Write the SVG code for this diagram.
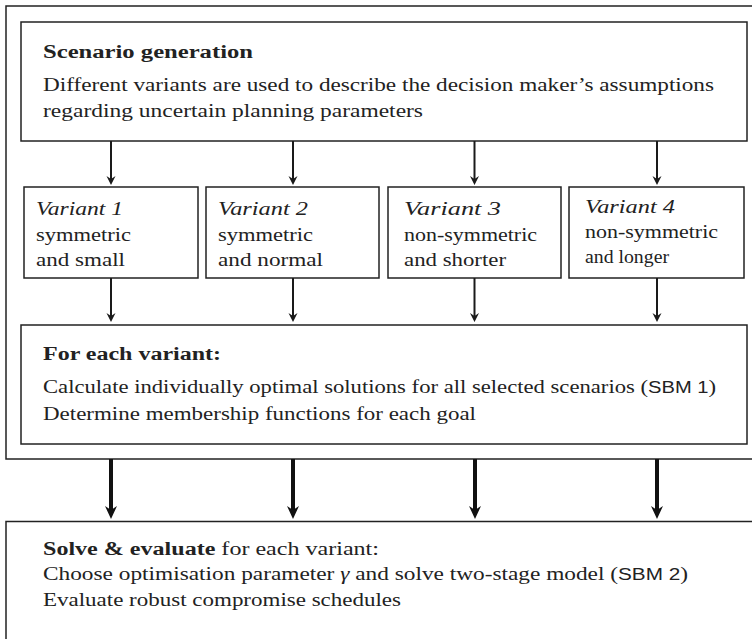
<svg xmlns="http://www.w3.org/2000/svg" width="752" height="639" viewBox="0 0 752 639">
<style>
.box{fill:none;stroke:#222;stroke-width:1.5}
.t{font-family:"Liberation Serif","Times New Roman",serif;font-size:18px;fill:#222}
.b{font-weight:bold}
.i{font-style:italic}
.s{font-family:"Liberation Sans",Arial,sans-serif;font-size:16px}
.thin{stroke:#1a1a1a;stroke-width:2;fill:none}
.thick{stroke:#111;stroke-width:4;fill:none}
</style>
<defs>
<marker id="ah" markerUnits="userSpaceOnUse" viewBox="-10 -5 11 10" markerWidth="11" markerHeight="10" refX="-4" refY="0" orient="auto">
<path d="M0,0 L-9,-4.5 L-6,0 L-9,4.5 Z" fill="#1a1a1a"/>
</marker>
<marker id="ahb" markerUnits="userSpaceOnUse" viewBox="-14 -7 15 14" markerWidth="15" markerHeight="14" refX="-7" refY="0" orient="auto">
<path d="M0,0 L-13,-6 L-9,0 L-13,6 Z" fill="#111"/>
</marker>
</defs>
<g id="outer"><rect class="box" x="6" y="6" width="760" height="453"/></g>
<g id="scenario">
<rect class="box" x="21" y="22" width="726" height="119"/>
<text class="t b" x="43" y="58" textLength="210" lengthAdjust="spacingAndGlyphs">Scenario generation</text>
<text class="t" x="43" y="91" textLength="671" lengthAdjust="spacingAndGlyphs">Different variants are used to describe the decision maker’s assumptions</text>
<text class="t" x="43" y="117" textLength="380" lengthAdjust="spacingAndGlyphs">regarding uncertain planning parameters</text>
</g>
<g id="variant1">
<rect class="box" x="24" y="187" width="174" height="91"/>
<text class="t i" x="36" y="215" textLength="87" lengthAdjust="spacingAndGlyphs">Variant 1</text>
<text class="t" x="36" y="241" textLength="95" lengthAdjust="spacingAndGlyphs">symmetric</text>
<text class="t" x="36" y="266" textLength="89" lengthAdjust="spacingAndGlyphs">and small</text>
</g>
<g id="variant2">
<rect class="box" x="206" y="187" width="173" height="91"/>
<text class="t i" x="218" y="215" textLength="90" lengthAdjust="spacingAndGlyphs">Variant 2</text>
<text class="t" x="218" y="241" textLength="95" lengthAdjust="spacingAndGlyphs">symmetric</text>
<text class="t" x="218" y="266" textLength="105" lengthAdjust="spacingAndGlyphs">and normal</text>
</g>
<g id="variant3">
<rect class="box" x="388" y="187" width="173" height="91"/>
<text class="t i" x="404" y="215" textLength="97" lengthAdjust="spacingAndGlyphs">Variant 3</text>
<text class="t" x="404" y="241" textLength="133" lengthAdjust="spacingAndGlyphs">non-symmetric</text>
<text class="t" x="404" y="266" textLength="102" lengthAdjust="spacingAndGlyphs">and shorter</text>
</g>
<g id="variant4">
<rect class="box" x="569" y="187" width="175" height="91"/>
<text class="t i" x="585" y="212.5" textLength="90" lengthAdjust="spacingAndGlyphs">Variant 4</text>
<text class="t" x="585" y="238" textLength="133" lengthAdjust="spacingAndGlyphs">non-symmetric</text>
<text class="t" x="585" y="263" textLength="84" lengthAdjust="spacingAndGlyphs">and longer</text>
</g>
<g id="foreach">
<rect class="box" x="21" y="325" width="726" height="119"/>
<text class="t b" x="43" y="360" textLength="178" lengthAdjust="spacingAndGlyphs">For each variant:</text>
<text class="t" x="43" y="393" textLength="673" lengthAdjust="spacingAndGlyphs">Calculate individually optimal solutions for all selected scenarios (<tspan class="s">SBM 1</tspan>)</text>
<text class="t" x="43" y="420" textLength="433" lengthAdjust="spacingAndGlyphs">Determine membership functions for each goal</text>
</g>
<g id="solve">
<rect class="box" x="6" y="521.5" width="760" height="200"/>
<text class="t" x="43" y="555" textLength="336" lengthAdjust="spacingAndGlyphs"><tspan class="b">Solve &amp; evaluate</tspan> for each variant:</text>
<text class="t" x="43" y="580" textLength="645" lengthAdjust="spacingAndGlyphs">Choose optimisation parameter <tspan class="i">γ</tspan> and solve two-stage model (<tspan class="s">SBM 2</tspan>)</text>
<text class="t" x="43" y="606" textLength="358" lengthAdjust="spacingAndGlyphs">Evaluate robust compromise schedules</text>
</g>
<g id="connectors">
<line class="thin" x1="111" y1="141" x2="111" y2="181" marker-end="url(#ah)"/>
<line class="thin" x1="293" y1="141" x2="293" y2="181" marker-end="url(#ah)"/>
<line class="thin" x1="474.5" y1="141" x2="474.5" y2="181" marker-end="url(#ah)"/>
<line class="thin" x1="657" y1="141" x2="657" y2="181" marker-end="url(#ah)"/>
<line class="thin" x1="111" y1="278" x2="111" y2="318" marker-end="url(#ah)"/>
<line class="thin" x1="293" y1="278" x2="293" y2="318" marker-end="url(#ah)"/>
<line class="thin" x1="474.5" y1="278" x2="474.5" y2="318" marker-end="url(#ah)"/>
<line class="thin" x1="657" y1="278" x2="657" y2="318" marker-end="url(#ah)"/>
<line class="thick" x1="111" y1="459" x2="111" y2="512" marker-end="url(#ahb)"/>
<line class="thick" x1="293" y1="459" x2="293" y2="512" marker-end="url(#ahb)"/>
<line class="thick" x1="475" y1="459" x2="475" y2="512" marker-end="url(#ahb)"/>
<line class="thick" x1="657" y1="459" x2="657" y2="512" marker-end="url(#ahb)"/>
</g>
</svg>
